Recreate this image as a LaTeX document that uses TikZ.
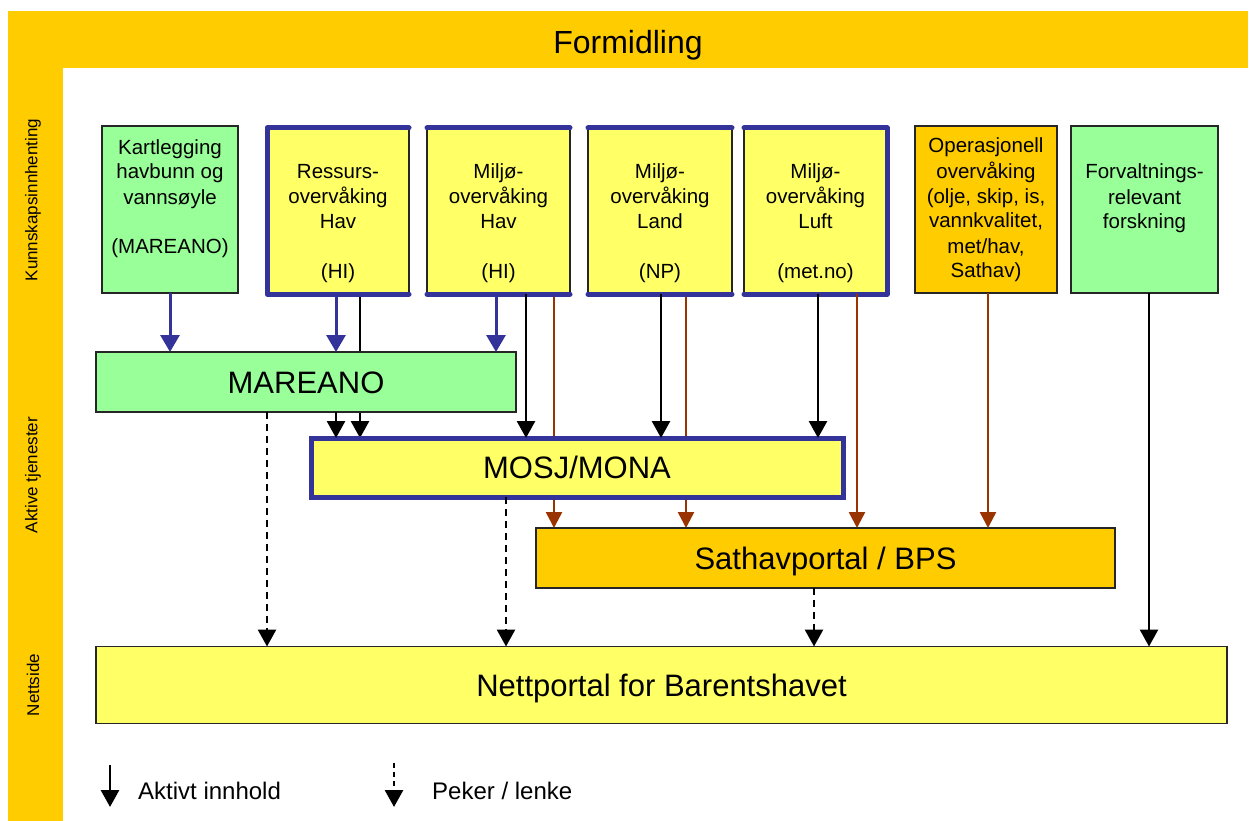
\documentclass[tikz,border=0pt]{standalone}
\usepackage{fontspec}
\setmainfont{Liberation Sans}
\usetikzlibrary{arrows.meta,backgrounds}
\definecolor{cgreen}{HTML}{99FF99}
\definecolor{cyellow}{HTML}{FFFF66}
\definecolor{corange}{HTML}{FFCC00}
\definecolor{cblue}{HTML}{333399}
\definecolor{cbrown}{HTML}{993300}
\newcommand\bxt[4]{\parbox[c][#2pt][t]{#1pt}{\centering\fontsize{20.5}{25}\selectfont\rule{0pt}{#3pt}#4\par}}
\begin{document}
\begin{tikzpicture}[x=1pt,y=-1pt,
  band/.style={fill=corange, draw=none, inner sep=0pt, outer sep=0pt},
  box/.style={draw=black!85, line width=1.4pt, inner sep=0pt, outer sep=0pt},
  bigtxt/.style={font=\fontsize{31}{37}\selectfont, text height=22pt, text depth=0pt},
  sidetxt/.style={font=\fontsize{17}{20}\selectfont, rotate=90, inner sep=0pt},
  legtxt/.style={font=\fontsize{24}{28}\selectfont, anchor=west, inner sep=0pt},
  bluearr/.style={draw=cblue, line width=3pt, -{Triangle[width=19pt,length=17pt]}},
  blackarr/.style={draw=black, line width=2.8pt, -{Triangle[width=18pt,length=17pt]}},
  brownarr/.style={draw=cbrown, line width=2.5pt, -{Triangle[width=16pt,length=16pt]}},
  linkarr/.style={draw=black, line width=2.8pt, dash pattern=on 7pt off 5pt, -{Triangle[width=18pt,length=17pt]}},
  blueedge/.style={draw=cblue, line width=5pt, line cap=round, line join=round},
]
\useasboundingbox (0,0) rectangle (1250,821);

% bands
\node[band, minimum width=1240pt, minimum height=57pt, font=\fontsize{32}{38}\selectfont, text height=29pt, text depth=0pt] (formid) at (628,39.5) {Formidling};
\node[band, minimum width=55pt, minimum height=754pt] (leftband) at (35.5,444) {};
\node[sidetxt] (lkunn) at (33,200) {Kunnskapsinnhenting};
\node[sidetxt] (lakt) at (33,475) {Aktive tjenester};
\node[sidetxt] (lnett) at (33,685) {Nettside};

% top row
\node[box, fill=cgreen] (kart) at (170,209.5) {\bxt{136}{167}{28}{Kartlegging\\havbunn og\\vannsøyle\\[25pt](MAREANO)}};
\node[box, fill=cyellow] (ress) at (338,211) {\bxt{142}{166}{51}{Ressurs-\\overvåking\\Hav\\[25pt](HI)}};
\node[box, fill=cyellow] (mhav) at (498.5,211) {\bxt{143}{166}{51}{Miljø-\\overvåking\\Hav\\[25pt](HI)}};
\node[box, fill=cyellow] (land) at (660,211) {\bxt{144}{166}{51}{Miljø-\\overvåking\\Land\\[25pt](NP)}};
\node[box, fill=cyellow] (luft) at (815.5,211) {\bxt{143}{166}{51}{Miljø-\\overvåking\\Luft\\[25pt](met.no)}};
\node[box, fill=corange] (oper) at (986,209.5) {\bxt{142}{167}{27}{Operasjonell\\overvåking\\(olje, skip, is,\\vannkvalitet,\\met/hav,\\Sathav)}};
\node[box, fill=cgreen] (forv) at (1144.5,209.5) {\bxt{147}{167}{53}{Forvaltnings-\\relevant\\forskning}};

% blue group edges
\draw[blueedge] (ress.south east) -- (ress.south west) -- (ress.north west) -- (ress.north east);
\draw[blueedge] (mhav.north west) -- (mhav.north east) (mhav.south west) -- (mhav.south east);
\draw[blueedge] (land.north west) -- (land.north east) (land.south west) -- (land.south east);
\draw[blueedge] (luft.north west) -- (luft.north east) -- (luft.south east) -- (luft.south west);

% middle boxes
\node[box, fill=cgreen, minimum width=420pt, minimum height=60pt, bigtxt] (mar) at (306,382) {MAREANO};
\node[box, draw=cblue, line width=5pt, fill=cyellow, minimum width=532pt, minimum height=59pt, bigtxt] (mosj) at (577,467.5) {MOSJ/MONA};
\node[box, fill=corange, minimum width=579pt, minimum height=60pt, bigtxt] (sat) at (825.5,558) {Sathavportal / BPS};
\node[box, fill=cyellow, minimum width=1131pt, minimum height=77pt, bigtxt] (nett) at (661.5,685) {Nettportal for Barentshavet};

% connectors passing behind boxes
\begin{pgfonlayer}{background}
\draw[blackarr] (ress.south -| 360,0) -- (mosj.north -| 360,0);
\draw[brownarr] (mhav.south -| 554,0) -- (sat.north -| 554,0);
\draw[brownarr] (land.south -| 686,0) -- (sat.north -| 686,0);
\end{pgfonlayer}

% blue
\draw[bluearr] (kart.south) -- (kart.south |- mar.north);
\draw[bluearr] (ress.south -| 336,0) -- (mar.north -| 336,0);
\draw[bluearr] (mhav.south -| 496,0) -- (mar.north -| 496,0);
% black
\draw[blackarr] (mar.south -| 336,0) -- (mosj.north -| 336,0);
\draw[blackarr] (mhav.south -| 526,0) -- (mosj.north -| 526,0);
\draw[blackarr] (land.south -| 661,0) -- (mosj.north -| 661,0);
\draw[blackarr] (luft.south -| 818,0) -- (mosj.north -| 818,0);
\draw[blackarr] (forv.south -| 1149,0) -- (nett.north -| 1149,0);
% brown
\draw[brownarr] (luft.south -| 857,0) -- (sat.north -| 857,0);
\draw[brownarr] (oper.south -| 988,0) -- (sat.north -| 988,0);
% dashed
\draw[linkarr] (mar.south -| 267,0) -- (nett.north -| 267,0);
\draw[linkarr] (mosj.south -| 506,0) -- (nett.north -| 506,0);
\draw[linkarr] (sat.south -| 814,0) -- (nett.north -| 814,0);

% legend
\coordinate (lgAs) at (110,765);
\coordinate (lgAe) at (110,807);
\coordinate (lgBs) at (394,763);
\coordinate (lgBe) at (394,807);
\draw[blackarr] (lgAs) -- (lgAe);
\draw[linkarr, dash pattern=on 5pt off 4pt] (lgBs) -- (lgBe);
\node[legtxt] (lgAt) at (138,791) {Aktivt innhold};
\node[legtxt] (lgBt) at (432,791) {Peker / lenke};
\end{tikzpicture}
\end{document}
